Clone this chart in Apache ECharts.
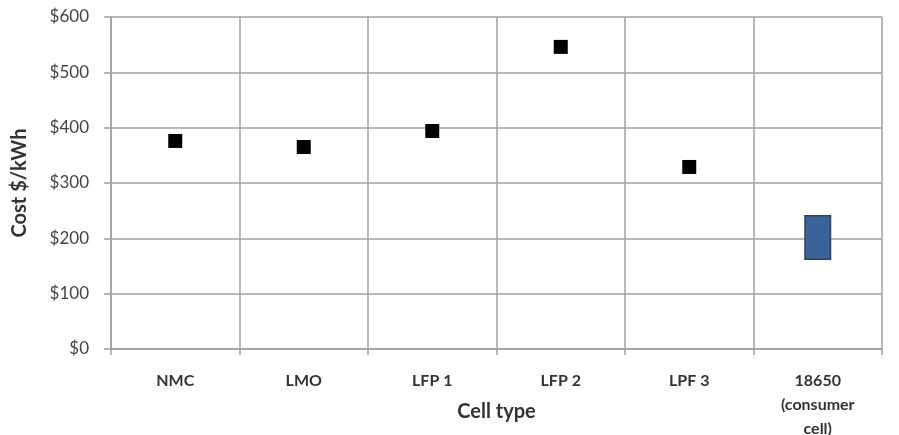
<!DOCTYPE html>
<html>
<head>
<meta charset="utf-8">
<script src="https://cdn.jsdelivr.net/npm/echarts@6/dist/echarts.min.js"></script>
<style>
  html, body { margin: 0; padding: 0; background: #fff; }
  #chart { width: 899px; height: 435px; }
</style>
</head>
<body>
<div id="chart"></div>
<script>
// cell types along the x axis
const cellTypes = ['NMC', 'LMO', 'LFP 1', 'LFP 2', 'LPF 3', '18650\n(consumer\ncell)'];
// single cost estimates ($/kWh), null where the range box is used
const costPoints = [376, 365, 394, 546, 329, null];
// consumer cell shown as a low..high range
const rangeLow = [null, null, null, null, null, 161];
const rangeHigh = [null, null, null, null, null, 242];
const yTicks = [0, 100, 200, 300, 400, 500, 600];

const rangeBase = rangeLow;
const rangeSpan = rangeHigh.map((v, i) => v == null ? null : v - rangeLow[i]);

let myChart = echarts.init(document.getElementById('chart'));
const gridColor = '#a0a0a0';
const font = 'Lato, "Open Sans", sans-serif';

let option = {
    animation: false,
    grid: { left: 111, right: 17, top: 17, bottom: 86, outerBoundsMode: 'none', containLabel: false },
    xAxis: {
        type: 'category',
        data: cellTypes,
        boundaryGap: true,
        axisLine: { lineStyle: { color: gridColor, width: 1.5 } },
        axisTick: { show: true, length: 6, lineStyle: { color: gridColor, width: 1.5 } },
        splitLine: { show: true, lineStyle: { color: gridColor, width: 1.5 } },
        axisLabel: {
            color: '#333', fontFamily: font, fontWeight: 'bold', fontSize: 16,
            margin: 20, lineHeight: 24, interval: 0
        },
        name: 'Cell type',
        nameLocation: 'middle',
        nameGap: 53,
        nameMoveOverlap: false,
        nameTextStyle: { color: '#333', fontFamily: font, fontWeight: 'bold', fontSize: 20 }
    },
    yAxis: {
        type: 'value',
        min: yTicks[0],
        max: yTicks[yTicks.length - 1],
        interval: 100,
        axisLine: { show: true, lineStyle: { color: gridColor, width: 1.5 } },
        axisTick: { show: true, length: 7, lineStyle: { color: gridColor, width: 1.5 } },
        splitLine: { show: true, lineStyle: { color: gridColor, width: 1.5 } },
        axisLabel: {
            color: '#444', fontFamily: font, fontSize: 17, margin: 22,
            formatter: v => '$' + v
        },
        name: 'Cost $/kWh',
        nameLocation: 'middle',
        nameGap: 81,
        nameRotate: 90,
        nameMoveOverlap: false,
        nameTextStyle: { color: '#333', fontFamily: font, fontWeight: 'bold', fontSize: 20 }
    },
    series: [
        {
            type: 'bar',
            stack: 'range',
            data: rangeBase,
            barWidth: 27,
            itemStyle: { color: 'transparent' },
            silent: true
        },
        {
            type: 'bar',
            stack: 'range',
            data: rangeSpan,
            barWidth: 27,
            itemStyle: { color: '#3c6398', borderColor: '#26426a', borderWidth: 1.5 }
        },
        {
            type: 'scatter',
            data: costPoints,
            symbol: 'rect',
            symbolSize: 14,
            itemStyle: { color: '#000', opacity: 1 },
            z: 5
        }
    ]
};
myChart.setOption(option);
</script>
</body>
</html>
